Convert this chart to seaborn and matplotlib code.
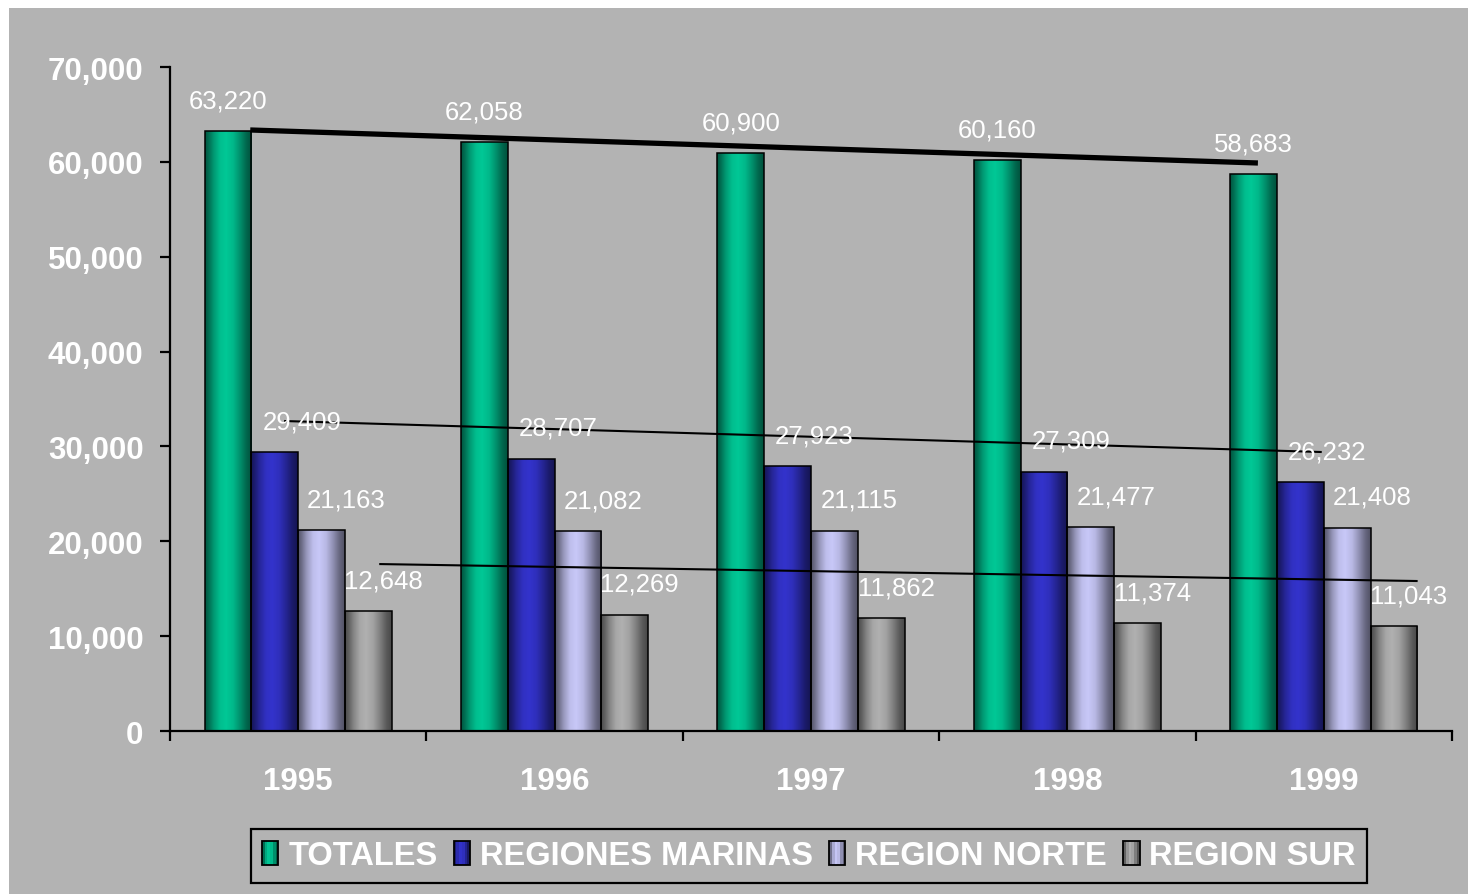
import numpy as np
import pandas as pd
import seaborn as sns
import matplotlib
matplotlib.use("Agg")
import matplotlib.pyplot as plt
from matplotlib.colors import LinearSegmentedColormap, to_rgb
from matplotlib.patches import Rectangle, Patch
from matplotlib.legend_handler import HandlerBase
from matplotlib.ticker import FuncFormatter, FixedLocator

# ---- data -------------------------------------------------------------
years = ["1995", "1996", "1997", "1998", "1999"]
series = ["TOTALES", "REGIONES MARINAS", "REGION NORTE", "REGION SUR"]
totales = [63220, 62058, 60900, 60160, 58683]
regiones_marinas = [29409, 28707, 27923, 27309, 26232]
region_norte = [21163, 21082, 21115, 21477, 21408]
region_sur = [12648, 12269, 11862, 11374, 11043]

# hand-drawn tendency lines: (x start, value start, x end, value end), x in category units
trend_totales = [-0.187, 63360, 3.743, 59880]
trend_marinas = [-0.055, 32680, 3.992, 29410]
trend_sur = [0.316, 17600, 4.366, 15810]

colors = ["#00C896", "#3333CC", "#C8C8F8", "#B0B0B0"]
bg = "#B3B3B3"

df = pd.DataFrame({
    "year": years * 4,
    "serie": sum([[s] * len(years) for s in series], []),
    "value": totales + regiones_marinas + region_norte + region_sur,
})

# ---- figure -----------------------------------------------------------
sns.set_theme(style="white")
plt.rcParams["font.family"] = ["Liberation Sans", "DejaVu Sans"]

W, H = 1468, 895
fig = plt.figure(figsize=(W / 100, H / 100), dpi=100, facecolor="white")
fig.patches.append(Rectangle((9 / W, 0), 1 - 9 / W, 1 - 9 / H, transform=fig.transFigure,
                             facecolor=bg, edgecolor="none", zorder=-10))
ax = fig.add_axes([170 / W, 1 - 732 / H, (1452 - 170) / W, (732 - 68) / H])
ax.set_facecolor(bg)
ax.patch.set_alpha(0)

sns.barplot(data=df, x="year", y="value", hue="serie", hue_order=series, order=years,
            palette=colors, saturation=1, width=0.73, gap=0, dodge=True,
            edgecolor="black", linewidth=1.1, legend=False, ax=ax, zorder=2)

# cylinder-like horizontal shading
pos = [0, 0.08, 0.18, 0.32, 0.45, 0.6, 0.75, 0.88, 1.0]
fac = [0.42, 0.55, 0.75, 0.95, 1.0, 0.92, 0.72, 0.52, 0.40]
cmaps = []
for c in colors:
    rgb = np.array(to_rgb(c))
    cmaps.append(LinearSegmentedColormap.from_list(
        c, [(p, tuple(np.clip(rgb * f, 0, 1))) for p, f in zip(pos, fac)]))

grad = np.linspace(0, 1, 256).reshape(1, -1)
for i, cont in enumerate(ax.containers):
    for bar in cont:
        x0, y0 = bar.get_x(), bar.get_y()
        w, h = bar.get_width(), bar.get_height()
        im = ax.imshow(grad, extent=[x0, x0 + w, y0, y0 + h], aspect="auto",
                       cmap=cmaps[i], zorder=1.9, interpolation="bilinear")
        im.set_clip_path(bar)
        bar.set_facecolor("none")

ax.set_xlim(-0.5, 4.5)
ax.set_ylim(0, 70000)

# value labels
label_dx = [0, 27, 25, 15]
for i, cont in enumerate(ax.containers):
    for bar in cont:
        v = bar.get_height()
        ax.annotate(f"{v:,.0f}", (bar.get_x() + bar.get_width() / 2, v),
                    xytext=(label_dx[i], 19), textcoords="offset pixels",
                    ha="center", va="bottom", color="white", fontsize=18.5, zorder=5)

# tendency lines
for tr, lw in [(trend_totales, 3.8), (trend_marinas, 1.5), (trend_sur, 1.5)]:
    ax.plot([tr[0], tr[2]], [tr[1], tr[3]], color="black", lw=lw, zorder=4,
            solid_capstyle="butt")

# axes styling
for s in ["top", "right"]:
    ax.spines[s].set_visible(False)
for s in ["left", "bottom"]:
    ax.spines[s].set_color("black")
    ax.spines[s].set_linewidth(1.6)
ax.set_yticks(np.arange(0, 70001, 10000))
ax.yaxis.set_major_formatter(FuncFormatter(lambda v, p: f"{v:,.0f}"))
ax.tick_params(axis="y", direction="out", length=7, width=1.6, color="black",
               pad=12, labelsize=22.5, labelcolor="white", left=True)
for t in ax.get_yticklabels():
    t.set_fontweight("bold")
ax.set_xticks(range(len(years)))
ax.set_xticklabels(years, fontweight="bold")
ax.tick_params(axis="x", which="major", length=0, pad=25, labelsize=22.5,
               labelcolor="white")
ax.xaxis.set_minor_locator(FixedLocator(np.arange(-0.5, 4.6, 1.0)))
ax.tick_params(axis="x", which="minor", direction="out", length=7, width=1.6,
               color="black", bottom=True)
ax.set_xlabel("")
ax.set_ylabel("")
ax.grid(False)


# legend keys drawn with the same shading as the bars
class ShadedKey(HandlerBase):
    def __init__(self, cmap):
        super().__init__()
        self.cmap = cmap

    def create_artists(self, legend, orig_handle, xdescent, ydescent, width, height,
                       fontsize, trans):
        n = 6
        arts = []
        for k in range(n):
            arts.append(Rectangle((-xdescent + width * k / n, -ydescent), width / n, height,
                                  facecolor=self.cmap((k + 0.5) / n), edgecolor="none",
                                  transform=trans))
        arts.append(Rectangle((-xdescent, -ydescent), width, height, facecolor="none",
                              edgecolor="black", linewidth=1.3, transform=trans))
        return arts


handles = [Patch(facecolor=c, edgecolor="black") for c in colors]
leg = fig.legend(handles, series, loc="center", bbox_to_anchor=(809 / W, 1 - 857 / H),
                 ncol=4, frameon=True, fancybox=False, edgecolor="black",
                 facecolor=bg, framealpha=1, handlelength=0.5, handleheight=0.75,
                 handletextpad=0.3, columnspacing=0.5, borderpad=0.35,
                 handler_map={h: ShadedKey(cm) for h, cm in zip(handles, cmaps)},
                 prop={"size": 23.5, "weight": "bold"})
leg.get_frame().set_linewidth(1.6)
for t in leg.get_texts():
    t.set_color("white")

fig.savefig("out.png", dpi=100, facecolor=fig.get_facecolor())
